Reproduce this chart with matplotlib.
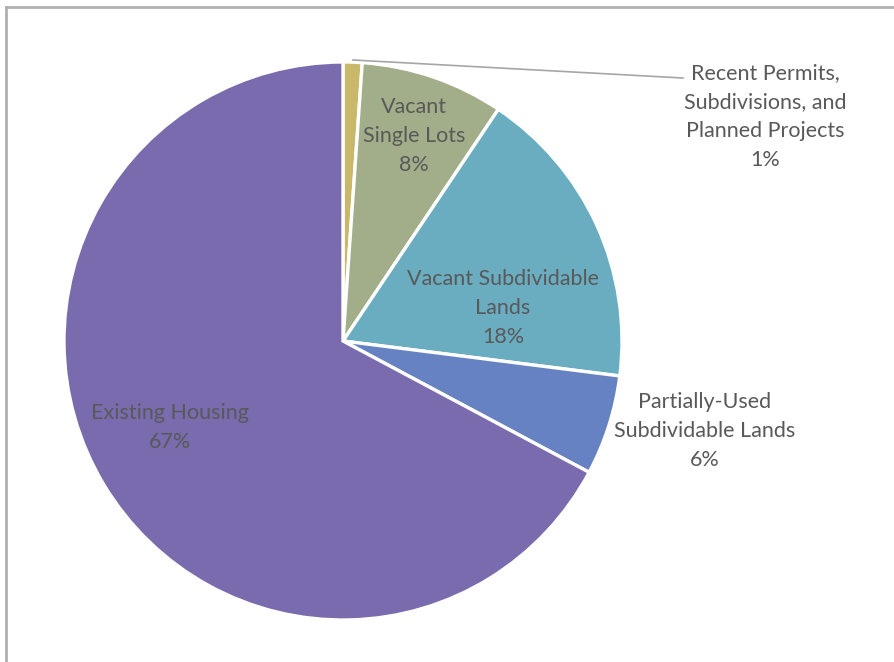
import matplotlib.pyplot as plt
from matplotlib.lines import Line2D

# share of housing capacity by source
categories = ["Recent Permits,\nSubdivisions, and\nPlanned Projects",
              "Vacant\nSingle Lots",
              "Vacant Subdividable\nLands",
              "Partially-Used\nSubdividable Lands",
              "Existing Housing"]
shares = [1.1, 8.3, 17.6, 5.8, 67.2]
colors = ["#C9B86A", "#A2AE89", "#6AADC1", "#6682C2", "#7A6AAE"]

plt.rcParams['font.family'] = ['Lato', 'DejaVu Sans']

W, H = 895, 662
fig = plt.figure(figsize=(W / 100, H / 100), dpi=100)
ax = fig.add_axes([0, 0, 1, 1])
ax.set_xlim(0, W)
ax.set_ylim(0, H)
ax.set_aspect('equal')
ax.axis('off')

cx, cy, r = 343, H - 341, 279
ax.pie(shares, colors=colors, startangle=90, counterclock=False,
       center=(cx, cy), radius=r,
       wedgeprops=dict(edgecolor='white', linewidth=2.4))
ax.set_xlim(0, W)
ax.set_ylim(0, H)

# label anchor: x centre and y of first line (pixels from top)
label_pos = [(765, 73), (414, 107), (503, 279), (705, 402), (170, 413)]
step = 29
for name, val, (lx, ly) in zip(categories, shares, label_pos):
    lines = name.split("\n")
    lines.append(f"{round(val)}%")
    for i, t in enumerate(lines):
        ax.text(lx, H - (ly + i * step), t, ha='center', va='center',
                fontsize=15.5, color='#595959')

# leader line for the small slice
ax.plot([353, 683], [H - 60, H - 78], color='#A6A6A6', lw=1.2)

# chart area border (left and top edges)
fig.add_artist(Line2D([6 / W, 6 / W], [0, 1 - 7 / H], color='#B0B0B4', lw=2,
                      transform=fig.transFigure))
fig.add_artist(Line2D([6 / W, 1], [1 - 7 / H, 1 - 7 / H], color='#B0B0B4', lw=2,
                      transform=fig.transFigure))

fig.savefig("out.png", dpi=100, facecolor='white')
